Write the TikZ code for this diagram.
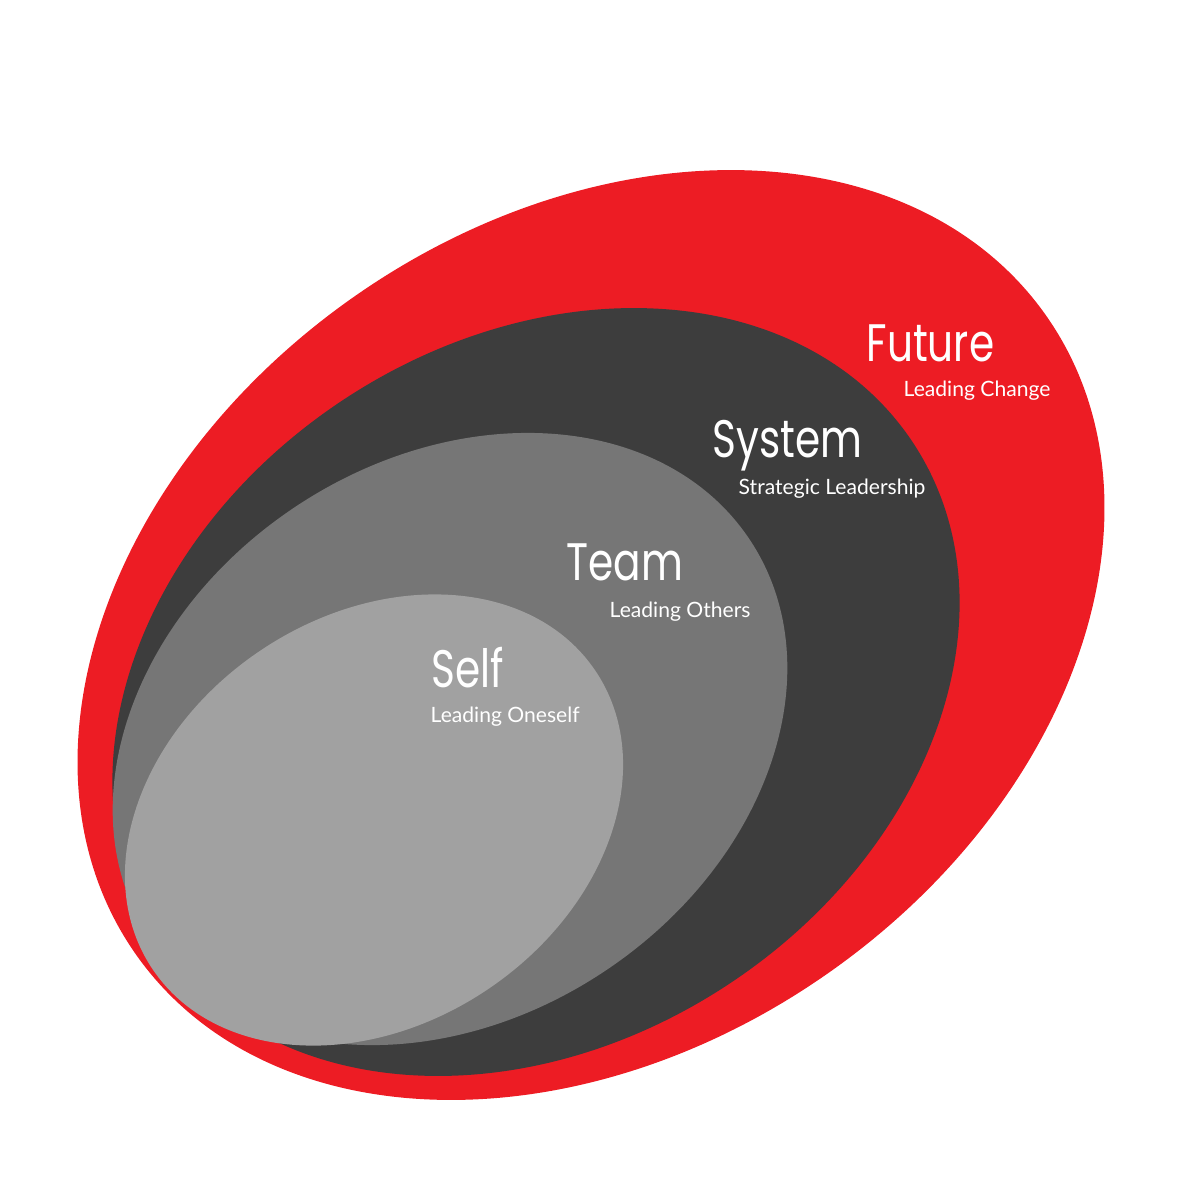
\documentclass[tikz,border=0pt]{standalone}
\usepackage{fontspec}
\usepackage{tikz}
\newfontfamily\titlefont[FakeStretch=0.77]{Poppins}
\newfontfamily\subfont{Lato}
\definecolor{ringred}{HTML}{ED1C24}
\definecolor{ringdark}{HTML}{3D3D3D}
\definecolor{ringmid}{HTML}{767676}
\definecolor{ringlight}{HTML}{A1A1A1}

\begin{document}
\begin{tikzpicture}[x=0.01cm,y=-0.01cm,
  title node/.style={anchor=base west,inner sep=0pt,text=white,font=\titlefont\fontsize{15}{15}\selectfont},
  sub node/.style={anchor=base west,inner sep=0pt,text=white,font=\subfont\fontsize{6}{6}\selectfont}]
  \useasboundingbox (0,0) rectangle (1200,1200);

  \fill[ringred, rotate around={35:(591,635)}] (591,635) ellipse (556 and 413);
  \fill[ringdark, rotate around={33.5:(536,692)}] (536,692) ellipse (452 and 350);
  \fill[ringmid, rotate around={33.6:(450,739)}] (450,739) ellipse (360 and 279);
  \fill[ringlight, rotate around={34:(374,820)}] (374,820) ellipse (267 and 204);

  \node[title node] (future) at (866,361) {Future};
  \node[sub node]   (change) at (903,396) {Leading Change};
  \node[title node] (system) at (712,457) {System};
  \node[sub node]   (strategic) at (738,494) {Strategic Leadership};
  \node[title node] (team) at (566,580) {Team};
  \node[sub node]   (others) at (609,617) {Leading Others};
  \node[title node] (self) at (431,687) {Self};
  \node[sub node]   (oneself) at (430,722) {Leading Oneself};
\end{tikzpicture}
\end{document}
